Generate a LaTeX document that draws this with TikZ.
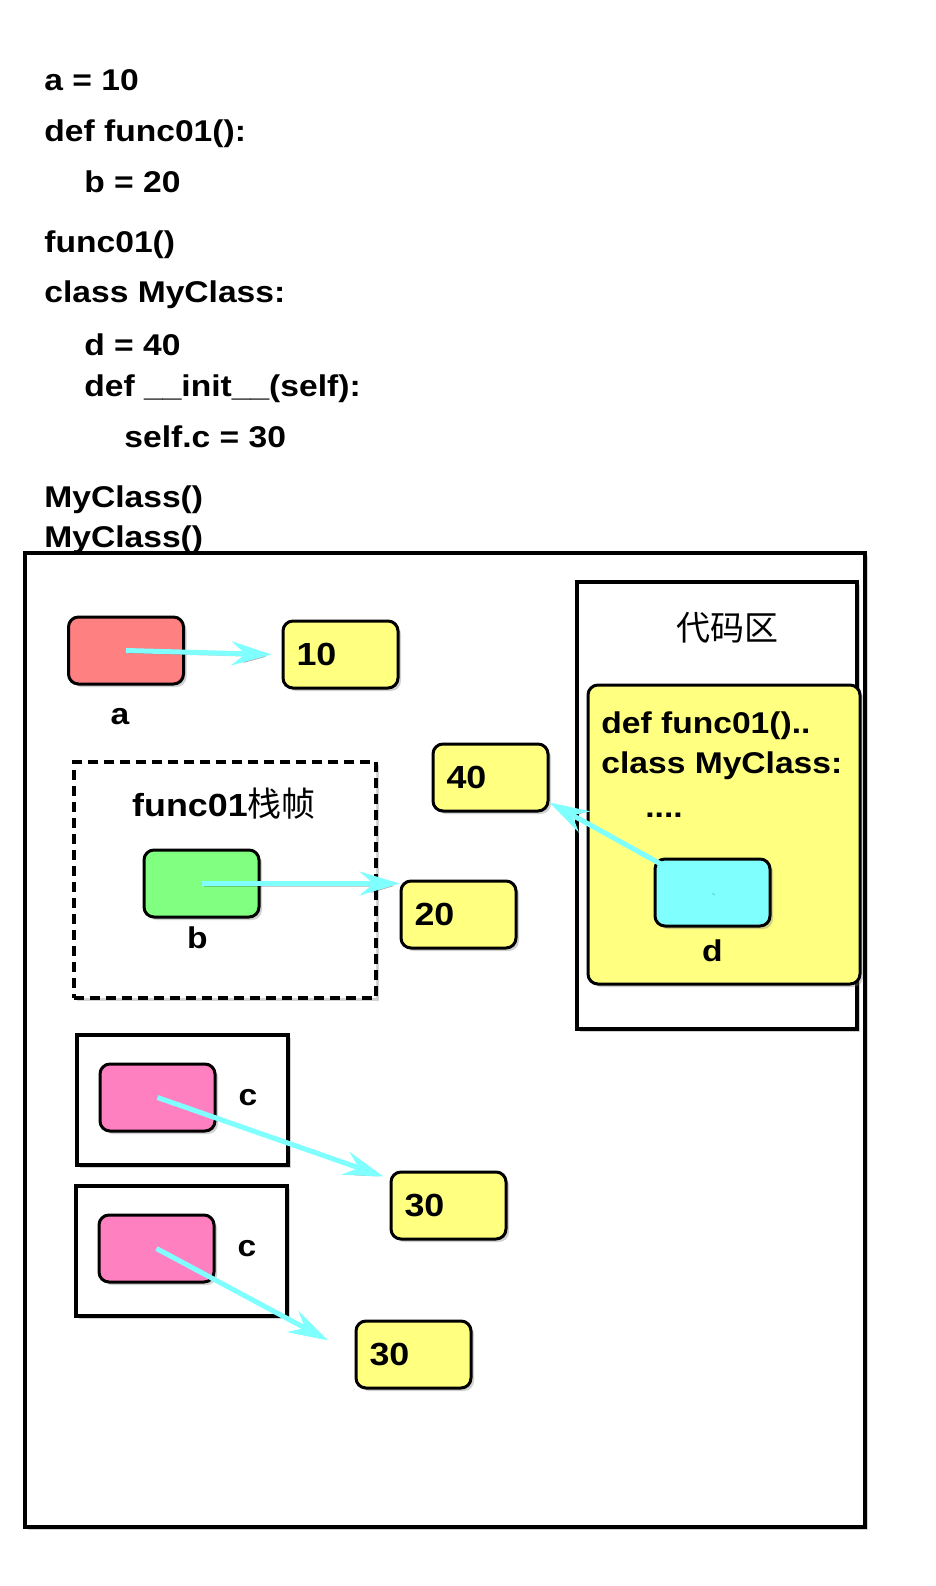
\documentclass[tikz,border=0pt]{standalone}
\usepackage{fontspec}
\setmainfont{Liberation Sans}[FakeStretch=1.12]
\newfontfamily\cjk{Noto Sans CJK SC}
\usetikzlibrary{positioning,shadows,arrows.meta}

\definecolor{varred}{HTML}{FF8080}
\definecolor{varyellow}{HTML}{FFFF80}
\definecolor{vargreen}{HTML}{80FF80}
\definecolor{varcyan}{HTML}{80FFFF}
\definecolor{varpink}{HTML}{FF80C0}
\definecolor{refcyan}{HTML}{80FFFF}

\def\cellw{57.5pt}
\def\cellh{33.5pt}

\begin{document}
\begin{tikzpicture}[x=0.5pt,y=-0.5pt]
        \tikzstyle{code}=[anchor=base west, inner sep=0pt, font=\fontsize{15}{18}\selectfont\bfseries]
        \tikzstyle{lbl}=[font=\fontsize{15}{18}\selectfont\bfseries]
        \tikzstyle{cell}=[rectangle, rounded corners=5pt, draw=black, line width=1.5pt, minimum width=\cellw, minimum height=\cellh, drop shadow={shadow xshift=1.5pt, shadow yshift=-1.5pt, opacity=0.35}]
        \tikzstyle{value}=[cell, fill=varyellow, text width=44pt, inner xsep=6.75pt, align=left, font=\fontsize{16}{19}\selectfont\bfseries]
        \tikzstyle{frame}=[rectangle, draw=black, line width=2.2pt, fill=white, drop shadow={shadow xshift=1.5pt, shadow yshift=-1.5pt, opacity=0.35}]
        \tikzstyle{ref}=[draw=refcyan, line width=2.5pt, -{Stealth[length=20pt,width=12pt,inset=7pt]},
            preaction={draw=black, opacity=0.2, transform canvas={shift={(1.2pt,-1.2pt)}}}]

        \useasboundingbox (0,0) rectangle (936,1586);

        % source lines
        \foreach \x/\y/\txt [count=\i] in {44/90/{a = 10}, 44/141/{def func01():}, 84/192/{b = 20},
                44/252/{func01()}, 44/302/{class MyClass:}, 84/355/{d = 40},
                84/396/{def \_\_init\_\_(self):}, 124/447/{self.c = 30}, 44/507/{MyClass()}, 44/547/{MyClass()}}
            \node[code] (src-\i) at (\x,\y) {\txt};

        % memory
        \node[frame, minimum width=420pt, minimum height=487pt] (mem) at (445,1040) {};

        \node[cell, fill=varred] (a) at (126,650.5) {};
        \node[lbl, below of=a, node distance=33.25pt, xshift=-3pt] (a-name) {a};
        \node[value] (v10) at (340.5,654.5) {10};

        % stack frame of func01
        \node[frame, dashed, dash pattern=on 5pt off 3pt, line width=1.8pt, minimum width=151pt, minimum height=118pt] (stack) at (225,880) {};
        \node[font=\fontsize{16}{19}\selectfont] (stack-title) at (224,804) {\textbf{func01}{\cjk\fontsize{17}{19}\selectfont 栈帧}};
        \node[cell, fill=vargreen] (b) at (201.5,883.5) {};
        \node[lbl, below of=b, node distance=27.25pt, xshift=-2pt] (b-name) {b};
        \node[value] (v20) at (458.5,914.5) {20};

        \node[value] (v40) at (490.5,777.5) {40};

        % code area
        \node[frame, minimum width=140pt, minimum height=223.5pt] (codearea) at (717,805.5) {};
        \node[font=\cjk\fontsize{17}{19}\selectfont] (codearea-title) at (727,628) {代码区};
        \node[cell, fill=varyellow, minimum width=136pt, minimum height=149.5pt] (codeblock) at (724,834.5) {};
        \foreach \x/\y/\txt [count=\i] in {601/733/{def func01()..}, 601/773/{class MyClass:}, 645/817/{....}}
            \node[code] (blk-\i) at (\x,\y) {\txt};
        \node[cell, fill=varcyan] (d) at (712.5,892.5) {};
        \node[lbl, below of=d, node distance=29.25pt] (d-name) {d};

        % two instances
        \foreach \name / \fx / \fy / \vx / \vy in {1/182.5/1100/448.5/1205.5, 2/181.5/1251/413.5/1354.5} {
            \node[frame, minimum width=105.5pt, minimum height=65pt] (obj-\name) at (\fx,\fy) {};
            \node[cell, fill=varpink] (c-\name) at (\fx-25,\fy-2.5) {};
            \node[lbl, right of=c-\name, node distance=45.25pt] (c-name-\name) {c};
            \node[value] (v30-\name) at (\vx,\vy) {30};
        }

        % references
        \draw[ref] (a.center) -- ([xshift=-5pt]v10.west);
        \draw[ref] (b.center) -- (b.center -| v20.west);
        \draw[ref] (d.center) -- ([yshift=5pt]v40.south east);
        \draw[ref] (c-1.center) -- ([shift={(-3pt,-3pt)}]v30-1.north west);
        \draw[ref, shorten >=15pt] (c-2.center) -- (v30-2.west);
\end{tikzpicture}
\end{document}
